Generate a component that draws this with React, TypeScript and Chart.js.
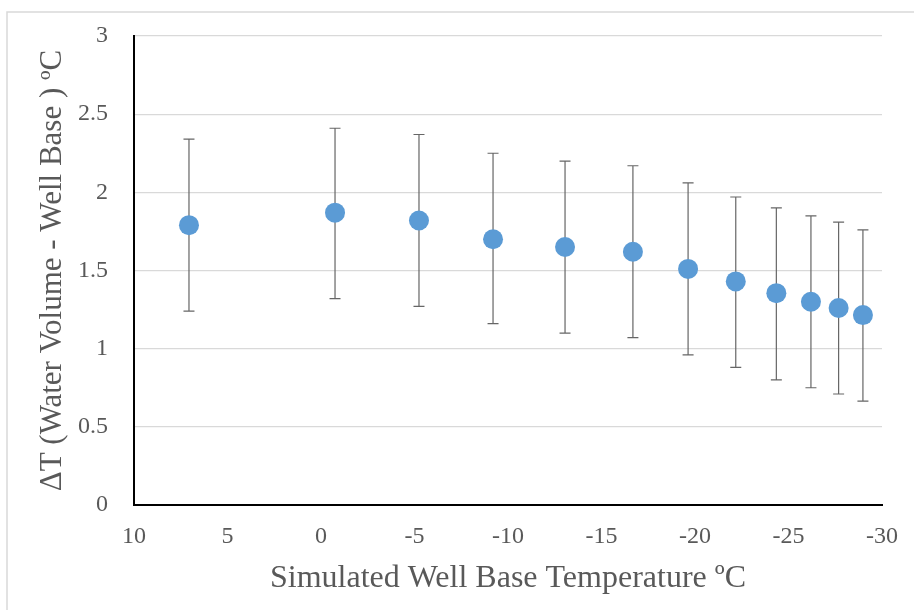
import React, { useEffect, useRef } from "react";
import { Chart, registerables } from "chart.js";

Chart.register(...registerables);

const xValues = [7.06, -0.75, -5.24, -9.2, -13.05, -16.68, -19.63, -22.18, -24.35, -26.2, -27.68, -28.98];
const yValues = [1.79, 1.87, 1.82, 1.70, 1.65, 1.62, 1.51, 1.43, 1.355, 1.30, 1.26, 1.215];
const yLow = [1.24, 1.32, 1.27, 1.16, 1.10, 1.07, 0.96, 0.88, 0.80, 0.75, 0.71, 0.665];
const yHigh = [2.34, 2.41, 2.37, 2.25, 2.20, 2.17, 2.06, 1.97, 1.90, 1.85, 1.81, 1.76];
const xTicks = [10, 5, 0, -5, -10, -15, -20, -25, -30];
const yTicks = [0, 0.5, 1, 1.5, 2, 2.5, 3];
const xTitle = "Simulated Well Base Temperature ºC";
const yTitle = "ΔT (Water Volume - Well Base ) ºC";

const FONT = "'Liberation Serif', 'DejaVu Serif', serif";
const TEXT = "#595959";

const frameAndErrorBars = {
  id: "frameAndErrorBars",
  beforeDraw(chart: any) {
    const ctx = chart.ctx;
    ctx.save();
    ctx.fillStyle = "#ffffff";
    ctx.fillRect(0, 0, chart.width, chart.height);
    ctx.strokeStyle = "#d9d9d9";
    ctx.lineWidth = 1.5;
    ctx.strokeRect(7, 12, chart.width + 10, chart.height + 10);
    ctx.restore();
  },
  beforeDatasetsDraw(chart: any) {
    const ctx = chart.ctx;
    const xs = chart.scales.x;
    const ys = chart.scales.y;
    ctx.save();
    ctx.strokeStyle = "#666666";
    ctx.lineWidth = 1.2;
    const cap = 5.5;
    for (let i = 0; i < xValues.length; i++) {
      const px = xs.getPixelForValue(xValues[i]);
      const pt = ys.getPixelForValue(yHigh[i]);
      const pb = ys.getPixelForValue(yLow[i]);
      ctx.beginPath();
      ctx.moveTo(px, pt);
      ctx.lineTo(px, pb);
      ctx.moveTo(px - cap, pt);
      ctx.lineTo(px + cap, pt);
      ctx.moveTo(px - cap, pb);
      ctx.lineTo(px + cap, pb);
      ctx.stroke();
    }
    ctx.restore();
  },
};

export default function App() {
  const ref = useRef<HTMLCanvasElement | null>(null);

  useEffect(() => {
    if (!ref.current) return;
    const points = xValues.map((x, i) => ({ x, y: yValues[i] }));
    const chart = new Chart(ref.current, {
      type: "scatter",
      data: {
        datasets: [
          {
            data: points,
            pointRadius: 10,
            pointHoverRadius: 10,
            pointBackgroundColor: "#5B9BD5",
            pointBorderColor: "#5B9BD5",
            pointBorderWidth: 0,
          },
          {
            data: points,
            pointRadius: 2.5,
            pointHoverRadius: 2.5,
            pointBackgroundColor: "#00B0F0",
            pointBorderColor: "#00B0F0",
            pointBorderWidth: 0,
          },
        ],
      },
      options: {
        responsive: false,
        animation: false,
        devicePixelRatio: 1,
        layout: { padding: { left: 0, top: 36, right: 32, bottom: 0 } },
        plugins: {
          legend: { display: false },
          tooltip: { enabled: false },
        },
        scales: {
          x: {
            type: "linear",
            reverse: true,
            min: -30,
            max: 10,
            afterBuildTicks: (s: any) => {
              s.ticks = xTicks.map((v) => ({ value: v }));
            },
            afterFit: (s: any) => {
              s.height = 105;
              s.paddingLeft = 0;
              s.paddingRight = 0;
            },
            grid: { display: false, drawTicks: false },
            border: { display: true, color: "#000000", width: 2 },
            ticks: {
              padding: 17,
              color: TEXT,
              font: { family: FONT, size: 24 },
              maxRotation: 0,
              callback: (v: any) => String(v),
            },
            title: {
              display: true,
              text: xTitle,
              color: TEXT,
              font: { family: FONT, size: 32 },
              padding: { top: 0, bottom: 12 },
            },
          },
          y: {
            type: "linear",
            min: 0,
            max: 3,
            afterBuildTicks: (s: any) => {
              s.ticks = yTicks.map((v) => ({ value: v }));
            },
            afterFit: (s: any) => {
              s.width = 134;
              s.paddingTop = 0;
              s.paddingBottom = 0;
            },
            grid: { display: true, color: "#d9d9d9", lineWidth: 1.2, drawTicks: false },
            border: { display: true, color: "#000000", width: 2 },
            ticks: {
              padding: 26,
              color: TEXT,
              font: { family: FONT, size: 24 },
              callback: (v: any) => String(v),
            },
            title: {
              display: true,
              text: yTitle,
              color: TEXT,
              font: { family: FONT, size: 31 },
              padding: { top: 34, bottom: 0 },
            },
          },
        },
      },
      plugins: [frameAndErrorBars],
    });
    return () => chart.destroy();
  }, []);

  return (
    <div style={{ position: "absolute", left: 0, top: 0, width: 914, height: 610 }}>
      <canvas ref={ref} width={914} height={610} />
    </div>
  );
}
